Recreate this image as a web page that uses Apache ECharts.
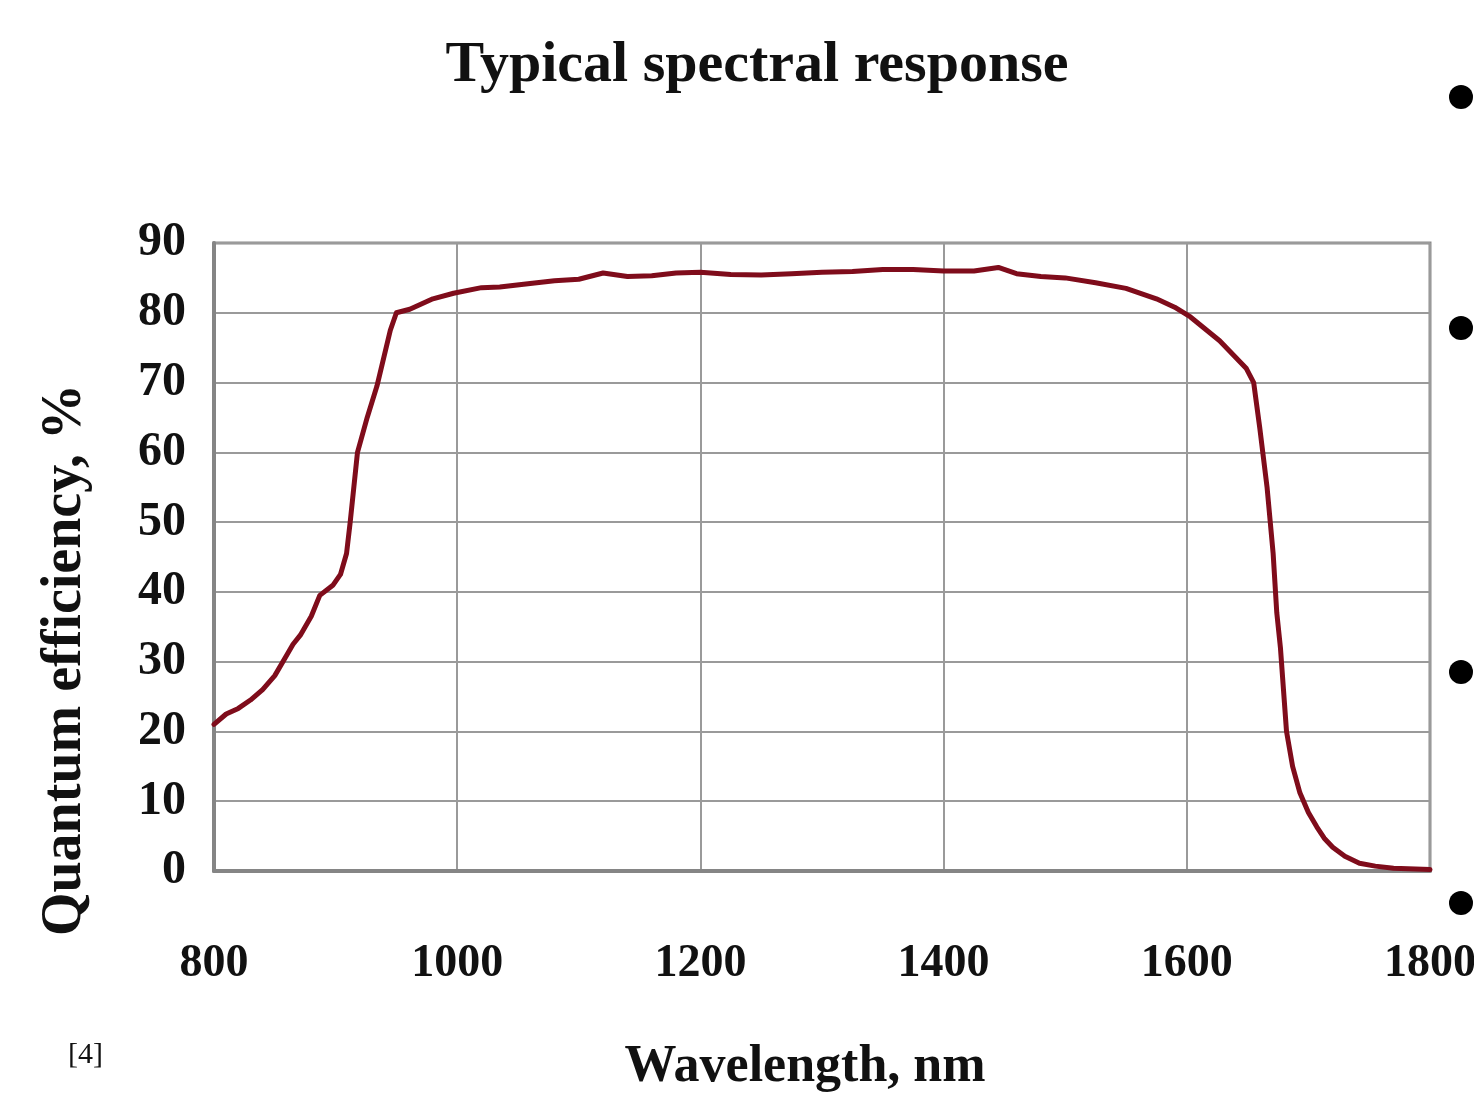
<!DOCTYPE html>
<html>
<head>
<meta charset="utf-8">
<script src="https://cdn.jsdelivr.net/npm/echarts@6/dist/echarts.min.js"></script>
<style>
  html, body { margin: 0; padding: 0; background: #fff; }
  #chart { width: 1474px; height: 1101px; }
</style>
</head>
<body>
<div id="chart"></div>
<script>
// wavelength (nm) and quantum efficiency (%)
var wavelength = [800, 810, 820, 830, 840, 850, 860, 865, 871, 880, 887, 898, 904, 909, 912, 918, 926, 934, 945, 950,
  961, 980, 997, 1020, 1035, 1060, 1080, 1100, 1120, 1140, 1160, 1180, 1200, 1225, 1250, 1275, 1300, 1325, 1350, 1375,
  1400, 1425, 1445, 1460, 1480, 1500, 1525, 1550, 1575, 1590, 1603, 1627, 1649, 1655, 1660, 1666, 1671, 1674, 1677, 1682,
  1687, 1693, 1700, 1707, 1713, 1720, 1730, 1742, 1755, 1770, 1800]
var qe = [21, 22.5, 23.3, 24.5, 26, 28, 31, 32.5, 33.8, 36.5, 39.5, 41, 42.5, 45.5, 50, 60, 65, 69.5, 77.5, 80,
  80.5, 82, 82.8, 83.6, 83.7, 84.2, 84.6, 84.8, 85.7, 85.2, 85.3, 85.7, 85.8, 85.5, 85.4, 85.6, 85.8, 85.9, 86.2, 86.2,
  86, 86, 86.5, 85.6, 85.2, 85, 84.3, 83.5, 82, 80.8, 79.4, 76, 72, 70, 63.5, 55, 45.5, 37, 32, 20,
  15, 11.2, 8.4, 6.3, 4.7, 3.4, 2.1, 1.1, 0.7, 0.4, 0.2]

var serif = '"Liberation Serif", "DejaVu Serif", serif'

var chart = echarts.init(document.getElementById('chart'))
chart.setOption({
  animation: false,
  backgroundColor: '#fff',
  grid: {
    left: 214,
    right: 44,
    top: 243,
    bottom: 230,
    outerBoundsMode: 'none',
    containLabel: false,
    show: true,
    borderColor: '#8c8c8c',
    borderWidth: 3
  },
  xAxis: {
    type: 'value',
    min: 800,
    max: 1800,
    interval: 200,
    axisLine: { show: true, lineStyle: { color: '#858585', width: 4 } },
    axisTick: { show: false },
    splitLine: { show: true, lineStyle: { color: '#9a9a9a', width: 2 } },
    axisLabel: {
      margin: 70,
      color: '#111',
      fontFamily: serif,
      fontWeight: 'bold',
      fontSize: 46,
      formatter: function (v) { return String(v) }
    }
  },
  yAxis: {
    type: 'value',
    min: 0,
    max: 90,
    interval: 10,
    axisLine: { show: true, lineStyle: { color: '#858585', width: 4 } },
    axisTick: { show: false },
    splitLine: { show: true, lineStyle: { color: '#9a9a9a', width: 2 } },
    axisLabel: {
      margin: 28,
      color: '#111',
      fontFamily: serif,
      fontWeight: 'bold',
      fontSize: 48
    }
  },
  series: [{
    type: 'line',
    data: wavelength.map(function (w, i) { return [w, qe[i]] }),
    showSymbol: false,
    smooth: false,
    lineStyle: { color: '#7f0c1b', width: 5, join: 'round', cap: 'round' }
  }],
  graphic: [
    {
      type: 'text',
      x: 757,
      y: 66,
      style: { text: 'Typical spectral response', font: 'bold 58px ' + serif, fill: '#111', align: 'center', verticalAlign: 'middle' }
    },
    {
      type: 'text',
      x: 805,
      y: 1068,
      style: { text: 'Wavelength, nm', font: 'bold 52px ' + serif, fill: '#111', align: 'center', verticalAlign: 'middle' }
    },
    {
      type: 'text',
      x: 66,
      y: 660,
      rotation: Math.PI / 2,
      style: { text: 'Quantum efficiency, %', font: 'bold 56px ' + serif, fill: '#111', align: 'center', verticalAlign: 'middle' }
    },
    {
      type: 'text',
      x: 68,
      y: 1055,
      style: { text: '[4]', font: '30px ' + serif, fill: '#111', verticalAlign: 'middle' }
    },
    { type: 'circle', shape: { cx: 1461, cy: 97, r: 12 }, style: { fill: '#000' } },
    { type: 'circle', shape: { cx: 1461, cy: 328, r: 12 }, style: { fill: '#000' } },
    { type: 'circle', shape: { cx: 1461, cy: 672, r: 12 }, style: { fill: '#000' } },
    { type: 'circle', shape: { cx: 1461, cy: 903, r: 12 }, style: { fill: '#000' } }
  ]
})
</script>
</body>
</html>
